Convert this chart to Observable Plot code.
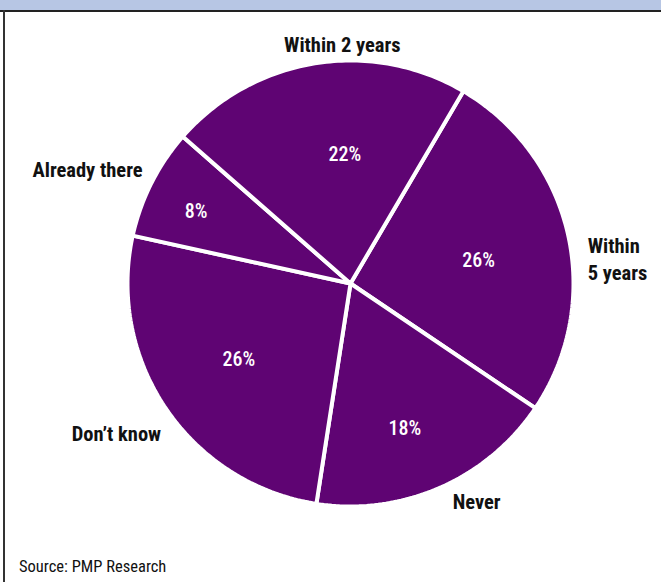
<!DOCTYPE html>
<html>
<head>
<meta charset="utf-8">
<script src="https://cdn.jsdelivr.net/npm/d3@7"></script>
<script src="https://cdn.jsdelivr.net/npm/@observablehq/plot@0.6"></script>
<style>
  html, body { margin: 0; padding: 0; background: #fff; }
  #wrap { position: relative; width: 661px; height: 582px; overflow: hidden; background: #fff; }
  #banner { position: absolute; left: 0; top: 0; width: 661px; height: 10px; background: #b7c6e4; border-bottom: 2px solid #222; }
  #lborder { position: absolute; left: 3px; top: 10px; width: 2px; height: 572px; background: #333; }
  #chart { position: absolute; left: 0; top: 0; }
  #source { position: absolute; left: 19px; top: 557px; font-family: "Roboto Condensed", "DejaVu Sans Condensed", sans-serif; font-size: 16.5px; color: #111; }
</style>
</head>
<body>
<div id="wrap">
  <div id="chart"></div>
  <div id="banner"></div>
  <div id="lborder"></div>
  <div id="source">Source: PMP Research</div>
</div>
<script>
const categories = ["Within 5 years", "Never", "Don't know", "Already there", "Within 2 years"];
const values = [26, 18, 26, 8, 22];
const labelLines = ["Within\n5 years", "Never", "Don\u2019t know", "Already there", "Within 2 years"];

// layout tweaks (pixels) to match the original's hand-placed labels
const labelNudge = [[-2, 29], [28, -8], [13, 11], [11, -4], [31, 2]];
const pctNudge = [[2, 6], [-10, -2], [-5, 3], [-11, 0], [15, -1]];

const startDeg = 30.4;
const rad = d => d * Math.PI / 180;
const arcs = d3.pie().sort(null).startAngle(rad(startDeg)).endAngle(rad(startDeg) + 2 * Math.PI)(values);
const cx = 350, cy = 283, r = 223;

const poly = [];
arcs.forEach((a, i) => {
  poly.push({cat: categories[i], x: 0, y: 0});
  const n = Math.max(2, Math.ceil((a.endAngle - a.startAngle) / rad(1)));
  for (let k = 0; k <= n; k++) {
    const t = a.startAngle + (a.endAngle - a.startAngle) * k / n;
    poly.push({cat: categories[i], x: Math.sin(t), y: Math.cos(t)});
  }
});

const pct = arcs.map((a, i) => {
  const m = (a.startAngle + a.endAngle) / 2;
  const f = values[i] >= 20 ? 0.58 : 0.72;
  return {text: values[i] + "%", x: f * Math.sin(m) + pctNudge[i][0] / r, y: f * Math.cos(m) - pctNudge[i][1] / r};
});

const outer = arcs.map((a, i) => {
  const m = (a.startAngle + a.endAngle) / 2;
  const s = Math.sin(m);
  const f = 1.1;
  return {
    text: labelLines[i],
    x: f * Math.sin(m) + labelNudge[i][0] / r,
    y: f * Math.cos(m) - labelNudge[i][1] / r,
    anchor: Math.abs(s) < 0.45 ? "middle" : (s > 0 ? "start" : "end")
  };
});

const font = '"Roboto Condensed", "DejaVu Sans Condensed", sans-serif';
const labelOpts = (anchor) => ({
  filter: d => d.anchor === anchor, x: "x", y: "y", text: "text", textAnchor: anchor,
  fill: "#111", fontSize: 20.5, fontWeight: "bold", lineHeight: 1.28, fontFamily: font
});

const chart = Plot.plot({
  width: 661,
  height: 582,
  margin: 0,
  x: {domain: [-1, 1], range: [cx - r, cx + r], axis: null},
  y: {domain: [-1, 1], range: [cy + r, cy - r], axis: null},
  style: {background: "transparent"},
  marks: [
    Plot.line(poly, {x: "x", y: "y", z: "cat", curve: "linear-closed", fill: "#5f0473", stroke: "white", strokeWidth: 4, strokeLinejoin: "miter"}),
    Plot.text(pct, {x: "x", y: "y", text: "text", fill: "white", fontSize: 20, fontWeight: 500, fontFamily: font}),
    Plot.text(outer, labelOpts("middle")),
    Plot.text(outer, labelOpts("start")),
    Plot.text(outer, labelOpts("end"))
  ]
});
document.getElementById("chart").appendChild(chart);
</script>
</body>
</html>
